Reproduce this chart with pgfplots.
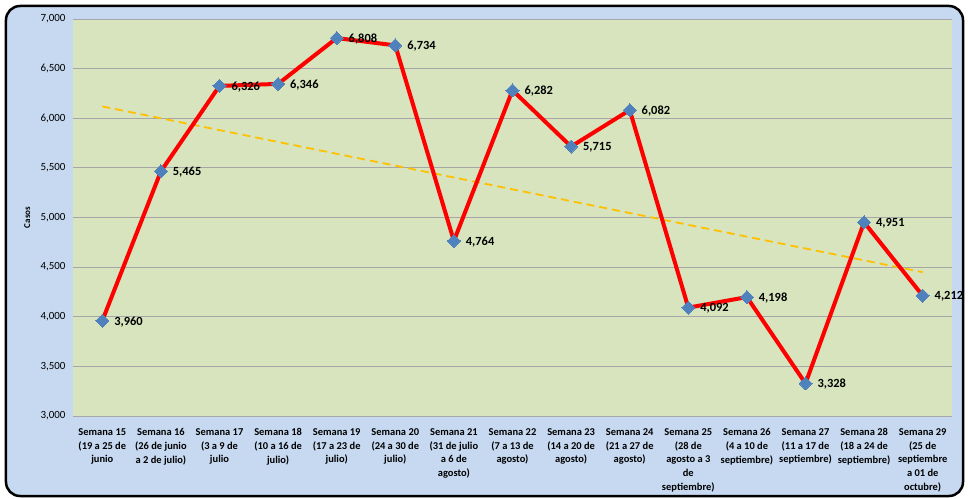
\documentclass[border=0pt]{standalone}
\usepackage{pgfplots}
\pgfplotsset{compat=1.18}
\usepackage{fontspec}
\setmainfont{Carlito}
\definecolor{bgblue}{HTML}{C6D9F1}
\definecolor{plotgreen}{HTML}{D7E4BD}
\definecolor{mblue}{HTML}{4F81BD}
\definecolor{trendc}{HTML}{FFC000}
\definecolor{gridc}{HTML}{A6A6A6}
\begin{document}
\begin{tikzpicture}
\useasboundingbox (-73bp,-83bp) rectangle (895bp,416bp);
\draw[line width=2.5bp, fill=bgblue, rounded corners=14bp] (-67bp,-80bp) rectangle (890bp,410bp);
\begin{axis}[
  at={(0,0)}, anchor=south west,
  scale only axis, width=879bp, height=397bp,
  xmin=-0.5, xmax=14.5, ymin=3000, ymax=7000,
  ytick={3000,3500,...,7000},
  xtick={0,...,14},
  xticklabels={
    {Semana 15\\(19 a 25 de\\junio},
    {Semana 16\\(26 de junio\\a 2 de julio)},
    {Semana 17\\(3 a 9 de\\julio},
    {Semana 18\\(10 a 16 de\\julio)},
    {Semana 19\\(17 a 23 de\\julio)},
    {Semana 20\\(24 a 30 de\\julio)},
    {Semana 21\\(31 de julio\\a 6 de\\agosto)},
    {Semana 22\\(7 a 13 de\\agosto)},
    {Semana 23\\(14 a 20 de\\agosto)},
    {Semana 24\\(21 a 27 de\\agosto)},
    {Semana 25\\(28 de\\agosto a 3\\de\\septiembre)},
    {Semana 26\\(4 a 10 de\\septiembre)},
    {Semana 27\\(11 a 17 de\\septiembre)},
    {Semana 28\\(18 a 24 de\\septiembre)},
    {Semana 29\\(25 de\\septiembre\\a 01 de\\octubre)}},
  xticklabel style={align=center, font=\bfseries\fontsize{10.5}{14}\selectfont, inner sep=0pt, yshift=-12bp},
  yticklabel style={font=\fontsize{11}{13}\selectfont, xshift=-4bp},
  /pgf/number format/assume math mode=true,
  /pgf/number format/1000 sep={,},
  ylabel={Casos},
  ylabel style={font=\bfseries\fontsize{9}{11}\selectfont, at={(axis description cs:-0.052,0.5)}, anchor=center},
  axis background/.style={fill=plotgreen},
  axis line style={draw=none},
  major tick length=0pt,
  ymajorgrids, major grid style={gridc, line width=0.8bp},
  clip=false,
]
\addplot[trendc, line width=1.8bp, dash pattern=on 8bp off 5bp] coordinates {(0,6119) (14,4449)};
\addplot[red, line width=4bp, mark=square*, mark size=4.6bp,
  mark options={fill=mblue, draw=mblue, line width=0pt, rotate=45},
  nodes near coords, point meta=explicit symbolic,
  every node near coord/.style={anchor=west, xshift=10bp, yshift=-1bp, font=\bfseries\fontsize{12.5}{14}\selectfont, text=black, inner sep=2bp}]
  coordinates {
  (0,3960) [3,960]
  (1,5465) [5,465]
  (2,6326) [6,326]
  (3,6346) [6,346]
  (4,6808) [6,808]
  (5,6734) [6,734]
  (6,4764) [4,764]
  (7,6282) [6,282]
  (8,5715) [5,715]
  (9,6082) [6,082]
  (10,4092) [4,092]
  (11,4198) [4,198]
  (12,3328) [3,328]
  (13,4951) [4,951]
  (14,4212) [4,212]
  };
\end{axis}
\end{tikzpicture}
\end{document}
